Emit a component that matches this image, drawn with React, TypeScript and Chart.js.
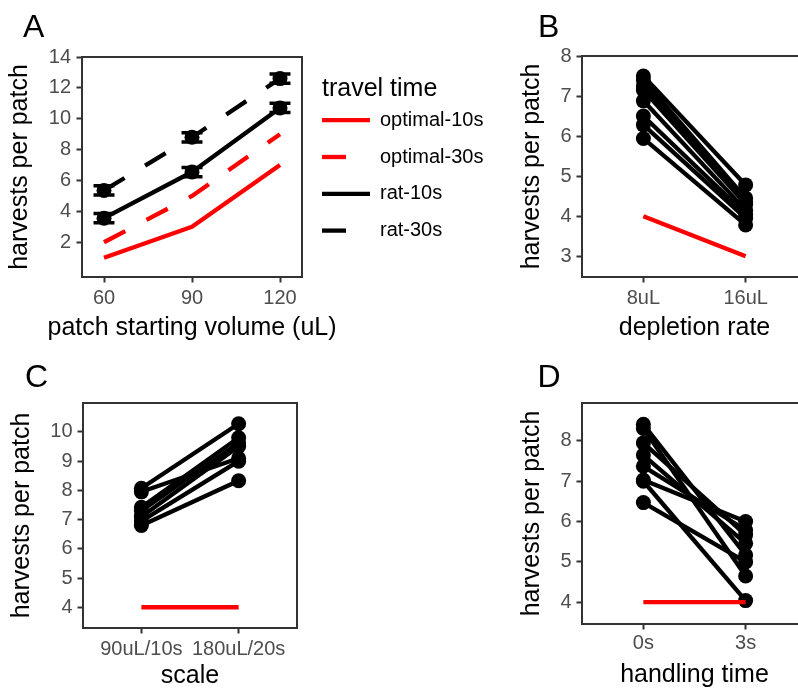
import React, { useEffect, useRef } from 'react';
import { Chart, registerables } from 'chart.js';

Chart.register(...registerables);

const FONT = '"Liberation Sans", Arial, Helvetica, sans-serif';
const TICK_GREY = '#4D4D4D';
const FRAME_GREY = '#333333';
const RED = '#FF0000';
const BLACK = '#000000';
const LINE_W = 4.3;
const POINT_R = 7.5;
const DASH = [24, 24];

// ---------- Panel A : patch starting volume ----------
const volumeValues = [60, 90, 120];
const harvestTicksA = [2, 4, 6, 8, 10, 12, 14];
const optimal10s = [1, 3, 7];
const optimal30s = [2, 5, 9];
const rat10s = [3.56, 6.55, 10.7];
const rat30s = [5.36, 8.8, 12.6];
const rat10sSE = [0.3, 0.3, 0.3];
const rat30sSE = [0.3, 0.3, 0.3];
const travelSeries = ['optimal-10s', 'optimal-30s', 'rat-10s', 'rat-30s'];
const travelTitle = 'travel time';
const volumeTitle = 'patch starting volume (uL)';

// ---------- Panel B : depletion rate ----------
const depletionCategories = ['8uL', '16uL'];
const harvestTicksB = [3, 4, 5, 6, 7, 8];
const ratDepletion8uL = [7.5, 7.4, 7.25, 7.15, 6.88, 6.5, 6.28, 5.94];
const ratDepletion16uL = [4.78, 4.45, 4.35, 4.3, 4.15, 4.05, 3.95, 3.78];
const optimalDepletion = [4, 3];

// ---------- Panel C : scale ----------
const scaleCategories = ['90uL/10s', '180uL/20s'];
const harvestTicksC = [4, 5, 6, 7, 8, 9, 10];
const ratScale90 = [8.07, 7.95, 7.42, 7.3, 7.1, 6.95, 6.8];
const ratScale180 = [10.28, 9.1, 9.8, 9.62, 9.5, 9.0, 8.33];
const optimalScale = [4, 4];

// ---------- Panel D : handling time ----------
const handlingCategories = ['0s', '3s'];
const harvestTicksD = [4, 5, 6, 7, 8];
const ratHandling0s = [8.41, 8.31, 7.95, 7.65, 7.37, 7.03, 7.0, 6.47];
const ratHandling3s = [5.17, 4.65, 5.67, 5.46, 5.79, 6.0, 4.04, 5.0];
const optimalHandling = [4, 4];

const yTitleText = 'harvests per patch';

const framePlugin = {
  id: 'panelFrame',
  afterDraw(chart: any) {
    const { ctx, chartArea: a } = chart;
    ctx.save();
    ctx.setLineDash([]);
    ctx.strokeStyle = FRAME_GREY;
    ctx.lineWidth = 2;
    ctx.strokeRect(a.left, a.top, a.right - a.left, a.bottom - a.top);
    ctx.restore();
  },
};

const errorBarPlugin = {
  id: 'errorBars',
  afterDatasetsDraw(chart: any) {
    const { ctx, scales } = chart;
    chart.data.datasets.forEach((ds: any) => {
      if (!ds.errors) return;
      ctx.save();
      ctx.setLineDash([]);
      ctx.strokeStyle = ds.borderColor;
      ctx.lineWidth = 3.5;
      ds.data.forEach((p: any, j: number) => {
        const x = scales.x.getPixelForValue(p.x);
        const yHi = scales.y.getPixelForValue(p.y + ds.errors[j]);
        const yLo = scales.y.getPixelForValue(p.y - ds.errors[j]);
        ctx.beginPath();
        ctx.moveTo(x, yHi);
        ctx.lineTo(x, yLo);
        ctx.moveTo(x - 10.5, yHi);
        ctx.lineTo(x + 10.5, yHi);
        ctx.moveTo(x - 10.5, yLo);
        ctx.lineTo(x + 10.5, yLo);
        ctx.stroke();
      });
      ctx.restore();
    });
  },
};

// Draws the wide x-axis title of panel A without Chart.js' width squeeze
const wideXTitlePlugin = {
  id: 'wideXTitle',
  afterDraw(chart: any) {
    const { ctx, chartArea: a } = chart;
    ctx.save();
    ctx.fillStyle = BLACK;
    ctx.textAlign = 'center';
    ctx.textBaseline = 'middle';
    ctx.font = `25px ${FONT}`;
    ctx.fillText(volumeTitle, (a.left + a.right) / 2, chart.height - 15 - 1.4);
    ctx.restore();
  },
};

const travelLegendPlugin = {
  id: 'travelLegend',
  afterDraw(chart: any) {
    const { ctx, chartArea: a } = chart;
    const x0 = a.right + 20;
    ctx.save();
    ctx.fillStyle = BLACK;
    ctx.textAlign = 'left';
    ctx.textBaseline = 'middle';
    ctx.font = `25px ${FONT}`;
    ctx.fillText(travelTitle, x0, 89.6);
    chart.data.datasets.forEach((ds: any, i: number) => {
      const y = 120.2 + 36.8 * i;
      ctx.strokeStyle = ds.borderColor;
      ctx.lineWidth = LINE_W;
      ctx.lineCap = 'butt';
      ctx.setLineDash(ds.borderDash || []);
      ctx.beginPath();
      ctx.moveTo(x0, y);
      ctx.lineTo(x0 + 48, y);
      ctx.stroke();
      ctx.setLineDash([]);
      ctx.font = `20px ${FONT}`;
      ctx.fillText(ds.label, x0 + 58, y);
    });
    ctx.restore();
  },
};

type PanelParams = {
  xMin: number; xMax: number; xTicks: number[]; xLabel: (v: number) => string;
  yMin: number; yMax: number; yTicks: number[];
  xTitle: string; showXTitle: boolean;
  padTop: number; padRight: number;
  yAxisWidth: number; xAxisHeight: number;
  yTitlePad: number; yTickPad: number; xTickPad: number; xTitlePad: number;
};

function panelOptions(p: PanelParams): any {
  const tickFont = { family: FONT, size: 20 };
  const titleFont = { family: FONT, size: 25 };
  const grid = { display: true, drawOnChartArea: false, drawTicks: true, tickLength: 5.5, tickWidth: 2, tickColor: FRAME_GREY };
  return {
    responsive: false,
    animation: false,
    events: [],
    layout: { padding: { left: 0, top: p.padTop, right: p.padRight, bottom: 0 } },
    plugins: { legend: { display: false }, tooltip: { enabled: false } },
    scales: {
      x: {
        type: 'linear', position: 'bottom', min: p.xMin, max: p.xMax,
        afterBuildTicks: (s: any) => { s.ticks = p.xTicks.map((v) => ({ value: v })); },
        afterFit: (s: any) => { s.height = p.xAxisHeight; },
        ticks: { callback: (v: number) => p.xLabel(v), autoSkip: false, maxRotation: 0, minRotation: 0, padding: p.xTickPad, color: TICK_GREY, font: tickFont },
        grid,
        border: { display: false },
        title: { display: p.showXTitle, text: p.xTitle, color: BLACK, font: titleFont, padding: { top: 0, bottom: p.xTitlePad } },
      },
      y: {
        type: 'linear', position: 'left', min: p.yMin, max: p.yMax,
        afterBuildTicks: (s: any) => { s.ticks = p.yTicks.map((v) => ({ value: v })); },
        afterFit: (s: any) => { s.width = p.yAxisWidth; },
        ticks: { callback: (v: number) => String(v), padding: p.yTickPad, color: TICK_GREY, font: tickFont },
        grid,
        border: { display: false },
        title: { display: true, text: yTitleText, color: BLACK, font: titleFont, padding: { top: p.yTitlePad, bottom: 0 } },
      },
    },
  };
}

function lineSeries(label: string, xs: number[], ys: number[], color: string, dashed: boolean, points: boolean, errors?: number[]) {
  return {
    label,
    data: xs.map((x, i) => ({ x, y: ys[i] })),
    borderColor: color,
    backgroundColor: color,
    borderWidth: LINE_W,
    borderDash: dashed ? DASH : [],
    borderCapStyle: 'butt',
    borderJoinStyle: 'round',
    tension: 0,
    fill: false,
    pointRadius: points ? POINT_R : 0,
    pointHoverRadius: points ? POINT_R : 0,
    pointBackgroundColor: color,
    pointBorderWidth: 0,
    errors,
  };
}

function pairedDatasets(left: number[], right: number[], optimal: number[]) {
  const sets: any[] = [lineSeries('optimal', [1, 2], optimal, RED, false, false)];
  left.forEach((l, i) => {
    sets.push(lineSeries(`rat ${i + 1}`, [1, 2], [l, right[i]], BLACK, false, true));
  });
  return sets;
}

function PanelCanvas({ left, top, width, height, build }: { left: number; top: number; width: number; height: number; build: () => any }) {
  const ref = useRef<HTMLCanvasElement | null>(null);
  useEffect(() => {
    const chart = new Chart(ref.current as HTMLCanvasElement, build());
    return () => chart.destroy();
  }, []);
  return (
    <canvas
      ref={ref}
      width={width}
      height={height}
      style={{ position: 'absolute', left, top, width, height, display: 'block' }}
    />
  );
}

const buildA = () => ({
  type: 'line',
  data: {
    datasets: [
      lineSeries(travelSeries[0], volumeValues, optimal10s, RED, false, false),
      lineSeries(travelSeries[1], volumeValues, optimal30s, RED, true, false),
      lineSeries(travelSeries[2], volumeValues, rat10s, BLACK, false, true, rat10sSE),
      lineSeries(travelSeries[3], volumeValues, rat30s, BLACK, true, true, rat30sSE),
    ],
  },
  options: panelOptions({
    xMin: 52.5, xMax: 127.5, xTicks: volumeValues, xLabel: (v) => String(v),
    yMin: -0.25, yMax: 14, yTicks: harvestTicksA,
    xTitle: volumeTitle, showXTitle: false,
    padTop: 57, padRight: 198, yAxisWidth: 82, xAxisHeight: 68,
    yTitlePad: 5.3, yTickPad: 5.5, xTickPad: 4, xTitlePad: 1.4,
  }),
  plugins: [errorBarPlugin, framePlugin, wideXTitlePlugin, travelLegendPlugin],
});

const buildB = () => ({
  type: 'line',
  data: { datasets: pairedDatasets(ratDepletion8uL, ratDepletion16uL, optimalDepletion) },
  options: panelOptions({
    xMin: 0.4, xMax: 2.6, xTicks: [1, 2], xLabel: (v) => depletionCategories[v - 1],
    yMin: 2.48, yMax: 8, yTicks: harvestTicksB,
    xTitle: 'depletion rate', showXTitle: true,
    padTop: 56, padRight: 13, yAxisWidth: 82, xAxisHeight: 68,
    yTitlePad: 16.8, yTickPad: 5, xTickPad: 4, xTitlePad: 1.4,
  }),
  plugins: [framePlugin],
});

const buildC = () => ({
  type: 'line',
  data: { datasets: pairedDatasets(ratScale90, ratScale180, optimalScale) },
  options: panelOptions({
    xMin: 0.4, xMax: 2.6, xTicks: [1, 2], xLabel: (v) => scaleCategories[v - 1],
    yMin: 3.29, yMax: 10.99, yTicks: harvestTicksC,
    xTitle: 'scale', showXTitle: true,
    padTop: 58, padRight: 23, yAxisWidth: 83, xAxisHeight: 64,
    yTitlePad: 7, yTickPad: 5, xTickPad: 3.5, xTitlePad: 0.7,
  }),
  plugins: [framePlugin],
});

const buildD = () => ({
  type: 'line',
  data: { datasets: pairedDatasets(ratHandling0s, ratHandling3s, optimalHandling) },
  options: panelOptions({
    xMin: 0.4, xMax: 2.6, xTicks: [1, 2], xLabel: (v) => handlingCategories[v - 1],
    yMin: 3.46, yMax: 8.94, yTicks: harvestTicksD,
    xTitle: 'handling time', showXTitle: true,
    padTop: 58, padRight: 13, yAxisWidth: 82, xAxisHeight: 68,
    yTitlePad: 16.8, yTickPad: 5, xTickPad: 2.3, xTitlePad: 1.7,
  }),
  plugins: [framePlugin],
});

const tagStyle = (left: number, top: number): React.CSSProperties => ({
  position: 'absolute',
  left,
  top,
  fontFamily: FONT,
  fontSize: 32,
  lineHeight: '32px',
  color: BLACK,
  margin: 0,
});

export default function App() {
  return (
    <div style={{ position: 'absolute', left: 0, top: 0, width: 798, height: 692, overflow: 'hidden', background: '#ffffff' }}>
      <PanelCanvas left={0} top={0} width={500} height={345} build={buildA} />
      <PanelCanvas left={500} top={0} width={320} height={345} build={buildB} />
      <PanelCanvas left={0} top={345} width={320} height={347} build={buildC} />
      <PanelCanvas left={500} top={345} width={320} height={347} build={buildD} />
      <div style={tagStyle(23, 9.6)}>A</div>
      <div style={tagStyle(538, 9.6)}>B</div>
      <div style={tagStyle(25, 359.6)}>C</div>
      <div style={tagStyle(537.6, 359.6)}>D</div>
    </div>
  );
}
